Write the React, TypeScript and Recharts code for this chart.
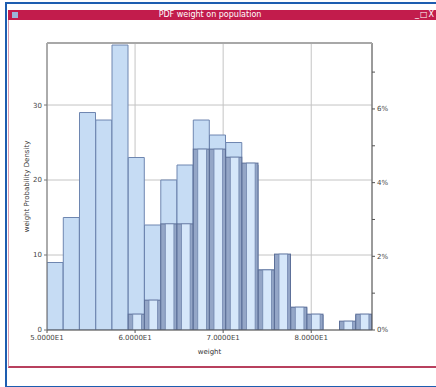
import React from "react";
import { BarChart, Bar, XAxis, YAxis, CartesianGrid, Label } from "recharts";

// bin centres of the weight histogram
const binCenters = [
  50.92, 52.77, 54.61, 56.46, 58.3, 60.15, 61.99, 63.84, 65.68, 67.53,
  69.37, 71.22, 73.06, 74.91, 76.75, 78.6, 80.44, 82.29, 84.13, 85.98,
];
// population counts (left axis)
const counts = [9, 15, 29, 28, 38, 23, 14, 20, 22, 28, 26, 25, 22, 8, 10, 3, 2, 0, 1, 2];
// second histogram, percent (right axis)
const pdfPct = [
  0, 0, 0, 0, 0, 0.43, 0.81, 2.88, 2.88, 4.91,
  4.91, 4.69, 4.53, 1.63, 2.06, 0.62, 0.43, 0, 0.24, 0.43,
];
const xTicks = [50, 60, 70, 80];
const countTicks = [0, 10, 20, 30];
const pctTicks = [0, 1, 2, 3, 4, 5, 6, 7];

const data = binCenters.map((x, i) => ({ x, count: counts[i], pct: pdfPct[i] }));

const TICK = { fontSize: 7, fill: "#444", fontFamily: "'DejaVu Sans', sans-serif" };

const StripedBar = (props: any) => {
  const { x, y, width, height } = props;
  if (!height || height <= 0) return null;
  const l = width * 0.28;
  const r = width * 0.18;
  return (
    <g>
      <rect x={x} y={y} width={width} height={height} fill="#94a6c7" stroke="#5d7099" strokeWidth={1} />
      <rect x={x + l} y={y} width={width - l - r} height={height} fill="#d6e7fa" stroke="#7085ad" strokeWidth={0.8} />
    </g>
  );
};

export default function App() {
  return (
    <div
      style={{
        position: "relative",
        width: 436,
        height: 387,
        background: "#fff",
        overflow: "hidden",
        fontFamily: "'DejaVu Sans', sans-serif",
      }}
    >
      <style>{`body{margin:0}`}</style>
      {/* outer frame */}
      <div style={{ position: "absolute", left: 5, top: 2, width: 440, height: 382, borderLeft: "2px solid #1d5db0", borderTop: "2px solid #1d5db0", borderBottom: "2px solid #1d5db0" }} />
      {/* window */}
      <div style={{ position: "absolute", left: 8, top: 10, width: 428, height: 356, borderLeft: "1px solid #d89aac", borderBottom: "2px solid #b8405e" }} />
      <div style={{ position: "absolute", left: 8, top: 10, width: 428, height: 10, background: "#c21c4c", color: "#fff", fontSize: 8, lineHeight: "10px", textAlign: "center" }}>
        <span style={{ position: "absolute", left: 4, top: 2, width: 6, height: 6, background: "#9cb4d8" }} />
        <span style={{ position: "relative", left: -12 }}>PDF weight on population</span>
        <span style={{ position: "absolute", right: 1, top: 0, fontSize: 8, letterSpacing: 1 }}>_□X</span>
      </div>

      <div style={{ position: "absolute", left: 0, top: 0 }}>
        <BarChart
          width={436}
          height={387}
          data={data}
          margin={{ top: 43, right: 44, bottom: 37, left: 17 }}
          barCategoryGap={0}
          barGap={0}
        >
          <CartesianGrid xAxisId="a" yAxisId="left" stroke="#c4c4c4" strokeWidth={1} />
          <XAxis
            xAxisId="a"
            dataKey="x"
            type="number"
            domain={[50, 86.9]}
            allowDataOverflow
            ticks={xTicks}
            tickFormatter={(v: number) => `${(v / 10).toFixed(4)}E1`}
            tick={TICK}
            tickSize={3}
            height={20}
            stroke="#555"
          >
            <Label value="weight" position="insideBottom" offset={-4} style={{ fontSize: 7, fill: "#333" }} />
          </XAxis>
          <XAxis xAxisId="b" dataKey="x" type="number" domain={[50, 86.9]} allowDataOverflow hide />
          <YAxis
            yAxisId="left"
            type="number"
            domain={[0, 38.27]}
            allowDataOverflow
            ticks={countTicks}
            tick={TICK}
            tickSize={3}
            width={30}
            stroke="#777"
          >
            <Label
              value="weight Probability Density"
              angle={-90}
              position="insideLeft"
              offset={10}
              style={{ fontSize: 7, fill: "#333", textAnchor: "middle" }}
            />
          </YAxis>
          <YAxis
            yAxisId="right"
            orientation="right"
            type="number"
            domain={[0, 7.79]}
            allowDataOverflow
            ticks={pctTicks}
            tickFormatter={(v: number) => (v % 2 === 0 ? `${v}%` : "")}
            tick={TICK}
            tickSize={3}
            width={20}
            stroke="#555"
          />
          <Bar
            xAxisId="a"
            yAxisId="left"
            dataKey="count"
            fill="#c6dcf4"
            stroke="#6e86b0"
            strokeWidth={1}
            isAnimationActive={false}
          />
          <Bar
            xAxisId="b"
            yAxisId="right"
            dataKey="pct"
            shape={StripedBar}
            isAnimationActive={false}
          />
        </BarChart>
      </div>
      {/* plot top border */}
      <div style={{ position: "absolute", left: 47, top: 42, width: 325, height: 2, background: "#a8a8a8" }} />
    </div>
  );
}
